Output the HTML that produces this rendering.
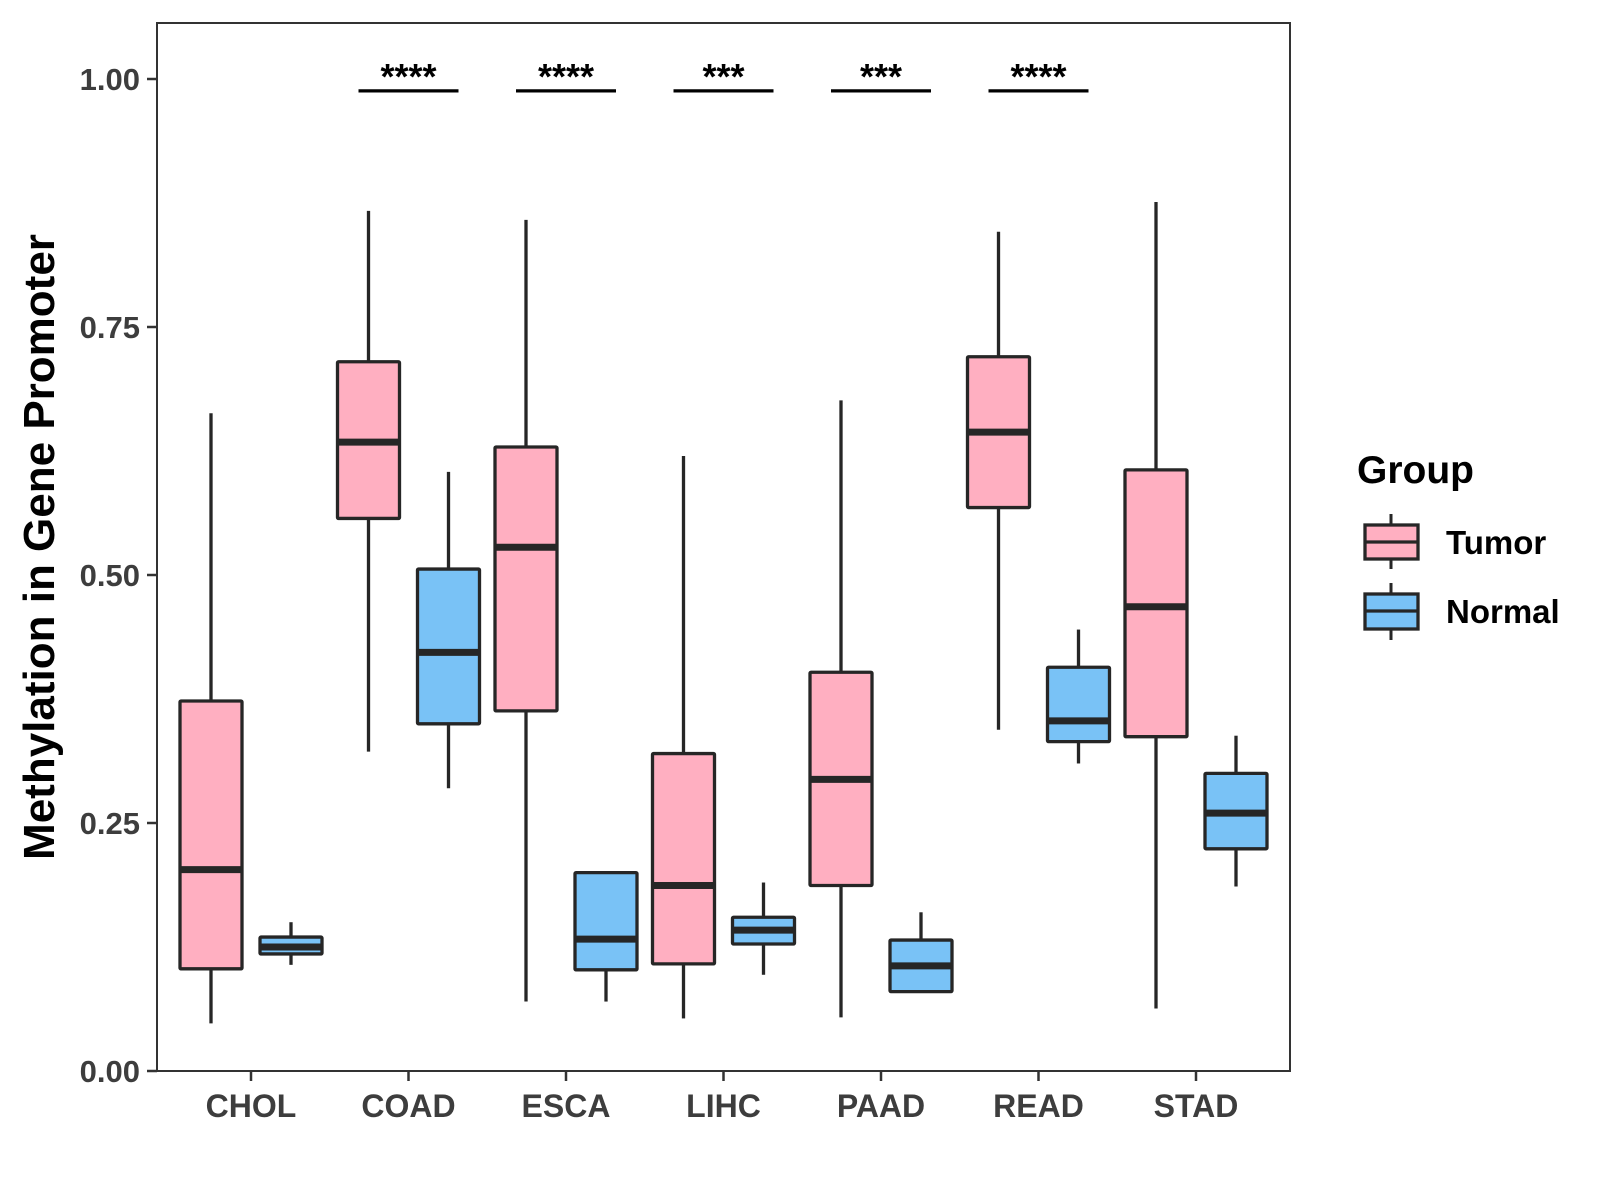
<!DOCTYPE html>
<html><head><meta charset="utf-8"><style>
html,body{margin:0;padding:0;background:#fff;}
svg{display:block;font-family:"Liberation Sans",Arial,sans-serif;}
</style></head><body>
<svg id="chart" width="1600" height="1200" viewBox="0 0 1600 1200">
<rect x="0" y="0" width="1600" height="1200" fill="#fff"/>
<g id="plot"></g>
<rect x="157" y="23" width="1133" height="1048" fill="none" stroke="#333" stroke-width="2"/>
<text x="0" y="0" transform="translate(54,547) rotate(-90)" text-anchor="middle" font-size="44" font-weight="bold" fill="#000">Methylation in Gene Promoter</text>
<g>
<text x="1357" y="483" font-size="39" font-weight="bold" fill="#000">Group</text>
<g>
<line x1="1391" y1="514" x2="1391" y2="569" stroke="#262626" stroke-width="3"/>
<rect x="1365" y="525" width="53" height="34" fill="#FFAFC1" stroke="#262626" stroke-width="3.3"/>
<line x1="1365" y1="542" x2="1418" y2="542" stroke="#262626" stroke-width="3.3"/>
<text x="1446" y="554" font-size="33" font-weight="bold" fill="#000">Tumor</text>
</g>
<g>
<line x1="1391" y1="583" x2="1391" y2="640" stroke="#262626" stroke-width="3"/>
<rect x="1365" y="594" width="53" height="35" fill="#79C2F6" stroke="#262626" stroke-width="3.3"/>
<line x1="1365" y1="611" x2="1418" y2="611" stroke="#262626" stroke-width="3.3"/>
<text x="1446" y="623" font-size="33" font-weight="bold" fill="#000">Normal</text>
</g>
</g>
</svg>
<script>
const categories = ["CHOL","COAD","ESCA","LIHC","PAAD","READ","STAD"];
const tumorMin = [0.048,0.322,0.070,0.053,0.054,0.344,0.063];
const tumorQ1  = [0.103,0.557,0.363,0.108,0.187,0.568,0.337];
const tumorMed = [0.203,0.634,0.528,0.187,0.294,0.644,0.468];
const tumorQ3  = [0.373,0.715,0.629,0.320,0.402,0.720,0.606];
const tumorMax = [0.663,0.867,0.858,0.620,0.676,0.846,0.876];
const normalMin = [0.107,0.285,0.070,0.097,0.079,0.310,0.186];
const normalQ1  = [0.118,0.350,0.102,0.128,0.080,0.332,0.224];
const normalMed = [0.125,0.422,0.133,0.142,0.106,0.353,0.260];
const normalQ3  = [0.135,0.506,0.200,0.155,0.132,0.407,0.300];
const normalMax = [0.150,0.604,0.200,0.190,0.160,0.445,0.338];
const sigLabels = ["","****","****","***","***","****",""];
const sigLevel = 0.988;
const yTicks = [0,0.25,0.5,0.75,1];
const yTickLabels = ["0.00","0.25","0.50","0.75","1.00"];

const NS="http://www.w3.org/2000/svg";
const g=document.getElementById('plot');
const x0=157, x1=1290;
const y=v=>1071-v*992;
const xc=i=>251+i*157.5;
const boxW=62, off=40;
function mk(tag,attrs,parent){const e=document.createElementNS(NS,tag);for(const k in attrs)e.setAttribute(k,attrs[k]);(parent||g).appendChild(e);return e;}

yTicks.forEach((t,i)=>{
  const tk=mk('line',{x1:x0-10,x2:x0,y1:y(t),y2:y(t),stroke:'#333','stroke-width':2.5});
  
  
  const tl=mk('text',{x:x0-17,y:y(t)+11,'text-anchor':'end','font-size':31,'font-weight':'bold',fill:'#3d3d3d'});
  tl.textContent=yTickLabels[i];
  
  
});

categories.forEach((c,i)=>{
  const tk=mk('line',{x1:xc(i),x2:xc(i),y1:1071,y2:1081,stroke:'#333','stroke-width':2.5});
  
  
  const tl=mk('text',{x:xc(i),y:1117,'text-anchor':'middle','font-size':32,'font-weight':'bold',fill:'#3d3d3d'});
  tl.textContent=c;
  
  
  const groups=[[-off,'#FFAFC1',tumorMin,tumorQ1,tumorMed,tumorQ3,tumorMax,'tumor'],[off,'#79C2F6',normalMin,normalQ1,normalMed,normalQ3,normalMax,'normal']];
  groups.forEach(([o,col,mn,q1,md,q3,mx,nm])=>{
    const cx=xc(i)+o;
    const bg=mk('g',{});
    
    
    mk('line',{x1:cx,x2:cx,y1:y(mx[i]),y2:y(q3[i]),stroke:'#262626','stroke-width':3.3},bg);
    mk('line',{x1:cx,x2:cx,y1:y(q1[i]),y2:y(mn[i]),stroke:'#262626','stroke-width':3.3},bg);
    mk('rect',{x:cx-boxW/2,y:y(q3[i]),width:boxW,height:y(q1[i])-y(q3[i]),fill:col,stroke:'#262626','stroke-width':3.3,rx:1},bg);
    mk('line',{x1:cx-boxW/2,x2:cx+boxW/2,y1:y(md[i]),y2:y(md[i]),stroke:'#262626','stroke-width':7},bg);
  });
  if(sigLabels[i]){
    const sl=mk('line',{x1:xc(i)-50,x2:xc(i)+50,y1:y(sigLevel),y2:y(sigLevel),stroke:'#000','stroke-width':3.3});
    
    
    const st=mk('text',{x:xc(i),y:y(sigLevel)-2,'text-anchor':'middle','font-size':36,'font-weight':'bold',fill:'#000'});
    st.textContent=sigLabels[i];
    
    
  }
});
</script>
</body></html>
